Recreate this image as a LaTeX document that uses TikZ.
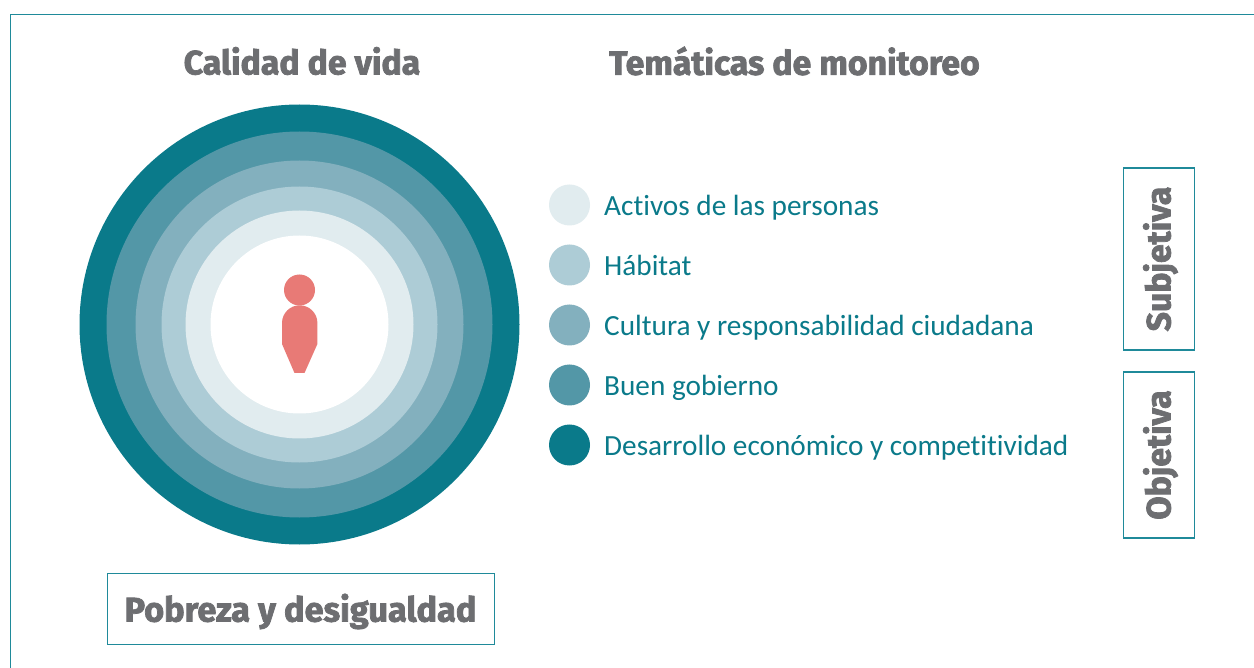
\documentclass[tikz,border=0pt]{standalone}
\usepackage{fontspec}
\setmainfont[Ligatures=NoCommon]{Carlito}
\newfontfamily\headfont[BoldFeatures={FakeBold=2.2}]{Fira Sans}
\definecolor{tealA}{HTML}{0A7A8A}
\definecolor{tealB}{HTML}{5397A7}
\definecolor{tealC}{HTML}{83B0BE}
\definecolor{tealD}{HTML}{ADCCD6}
\definecolor{tealE}{HTML}{E1ECEF}
\definecolor{frameteal}{HTML}{1F8A9A}
\definecolor{headgray}{HTML}{6D6E71}
\definecolor{figure}{HTML}{E87A76}
\tikzset{
  x=1pt,y=-1pt,
  ring/.style={circle,inner sep=0pt,outer sep=0pt,minimum size=#1*2pt},
  dot/.style={circle,inner sep=0pt,outer sep=0pt,minimum size=41pt,fill=#1},
  itemlabel/.style={anchor=base west,inner sep=0pt,text=tealA,font=\fontsize{29.25}{34}\selectfont},
  headlabel/.style={inner sep=0pt,text=headgray,font=\headfont\bfseries\fontsize{33.8}{38}\selectfont},
  boxshape/.style={draw=frameteal,line width=1.1pt,inner sep=0pt},
}
\begin{document}
\begin{tikzpicture}
\useasboundingbox (0,0) rectangle (1254,668);
\fill[white] (0,0) rectangle (1254,668);
\draw[frameteal,line width=1.2pt] (10.5,668) -- (10.5,14.5) -- (1254,14.5);
\node[headlabel] (t1) at (302,61) {Calidad de vida};
\node[headlabel] (t2) at (794.5,61) {Temáticas de monitoreo};
\node[ring=220,fill=tealA] (r1) at (299.5,324.5) {};
\node[ring=193,fill=tealB] (r2) at (299.5,324.5) {};
\node[ring=164,fill=tealC] (r3) at (299.5,324.5) {};
\node[ring=138,fill=tealD] (r4) at (299.5,324.5) {};
\node[ring=114,fill=tealE] (r5) at (299.5,324.5) {};
\node[ring=89,fill=white] (r6) at (299.5,324.5) {};
\node[ring=15.5,fill=figure] (head) at (299.5,290) {};
\fill[figure] (282,323) arc[start angle=180,end angle=360,radius=17.7] -- (317.4,344) -- (304.5,373) -- (294.5,373) -- (282,344) -- cycle;
\foreach \n/\y/\c/\t in {a/205/tealE/Activos de las personas,b/265/tealD/Hábitat,c/325/tealC/Cultura y responsabilidad ciudadana,d/385/tealB/Buen gobierno,e/445/tealA/Desarrollo económico y competitividad}{
  \node[dot=\c] (dot\n) at (569.5,\y) {};
  \node[itemlabel] (lab\n) at (604,\y+11) {\t};
}
\node[boxshape,minimum width=71.5pt,minimum height=182pt] (sub) at (1159,259) {};
\node[headlabel,rotate=90] (subt) at (1160.5,259) {Subjetiva};
\node[boxshape,minimum width=71.5pt,minimum height=166pt] (obj) at (1159,455) {};
\node[headlabel,rotate=90] (objt) at (1160.5,455) {Objetiva};
\node[boxshape,minimum width=386.5pt,minimum height=71pt] (pob) at (301,609) {};
\node[headlabel,font=\headfont\bfseries\fontsize{34.3}{38}\selectfont] (pobt) at (300.5,611.5) {Pobreza y desigualdad};
\end{tikzpicture}
\end{document}
